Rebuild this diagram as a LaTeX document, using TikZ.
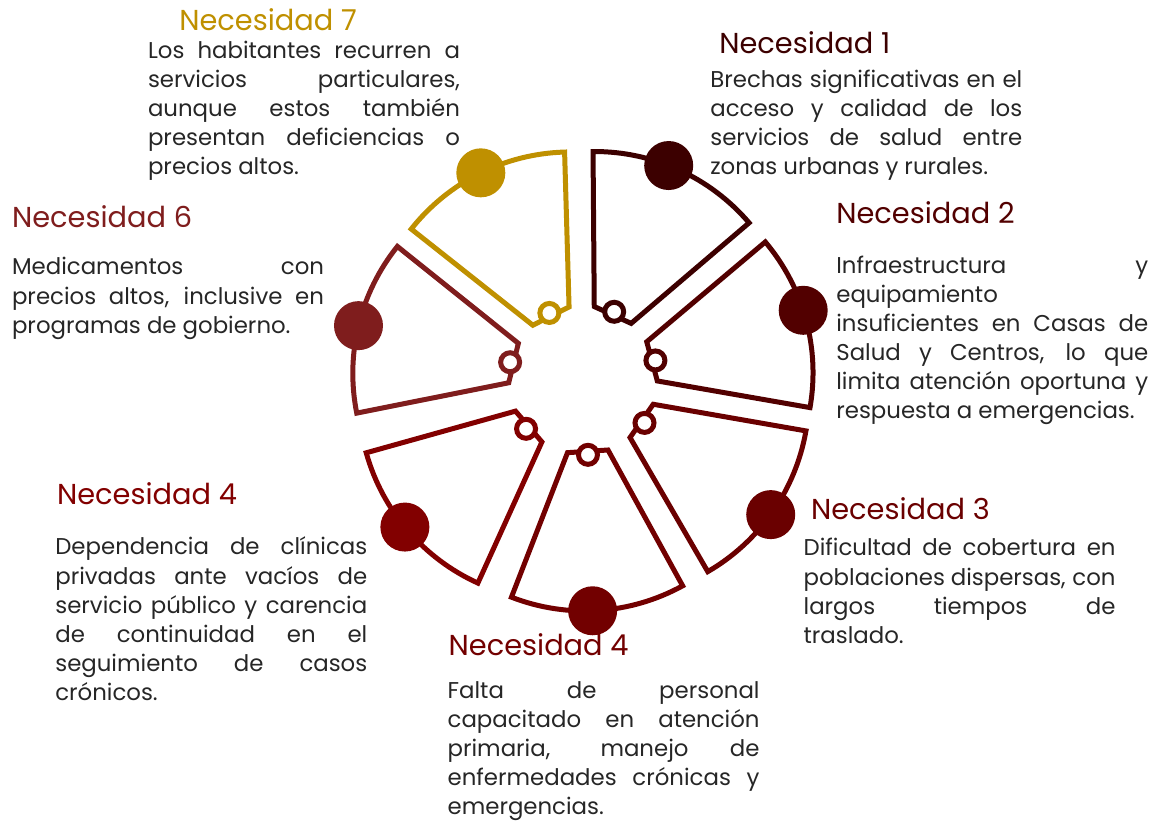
\documentclass[tikz,border=0pt]{standalone}
\usepackage{fontspec}
\setmainfont{Poppins}
\usetikzlibrary{calc}

\definecolor{necuno}{HTML}{3C0000}
\definecolor{necdos}{HTML}{520000}
\definecolor{nectres}{HTML}{6A0000}
\definecolor{neccuatro}{HTML}{720000}
\definecolor{neccinco}{HTML}{820000}
\definecolor{necseis}{HTML}{7F1D1D}
\definecolor{necsiete}{HTML}{BF9000}
\definecolor{textogris}{HTML}{262626}

\hyphenpenalty=10000
\exhyphenpenalty=10000

\tikzset{
  borde/.style={line width=0.1cm},
  titulo/.style={anchor=base west, inner sep=0pt, font=\fontsize{16.4pt}{20pt}\selectfont},
  texto/.style={anchor=base west, inner sep=0pt, text width=6.24cm, align=justify,
    text=textogris, font=\fontsize{13pt}{16.55pt}\selectfont}
}

% #1 nombre, #2 angulo medio, #3 color, #4 angulo del punto
\newcommand{\sectorpie}[4]{%
  \coordinate (#1) at ($(centro)+(#2:28)$);
  \draw[borde, #3] ($(#1)+({#2-25}:48)$) -- ($(#1)+({#2-25}:203)$)
    arc[start angle={#2-25}, end angle={#2+25}, radius=203]
    -- ($(#1)+({#2+25}:48)$) -- cycle;
  \filldraw[borde, #3, fill=white] ($(#1)+(#2:47)$) circle (9.5);
  \fill[#3] ($(#1)+(#4:203)$) circle (24.5);
}
% linea con espacios estrechos
\newcommand{\apretado}[1]{{\spaceskip=0.1em plus 1em\relax #1}}

\begin{document}
\begin{tikzpicture}[x=0.02cm, y=0.02cm]
  \useasboundingbox (0,0) rectangle (1154,822);
  \coordinate (centro) at (583,442);

  % Sectores
  \sectorpie{s1}{65.45}{necuno}{68.6}
  \sectorpie{s2}{15.1}{necdos}{17.9}
  \sectorpie{s3}{-34.9}{nectres}{-35.75}
  \sectorpie{s5}{-86.2}{neccuatro}{-87.8}
  \sectorpie{s4}{-139.4}{neccinco}{-140.6}
  \sectorpie{s6}{166.3}{necseis}{166.4}
  \sectorpie{s7}{116.65}{necsiete}{116.2}

  % Titulos
  \node[titulo, necsiete] (t7) at (179,791.3) {Necesidad 7};
  \node[titulo, necuno] (t1) at (719,768.7) {Necesidad 1};
  \node[titulo, necdos] (t2) at (836,598) {Necesidad 2};
  \node[titulo, nectres] (t3) at (810.7,302.7) {Necesidad 3};
  \node[titulo, neccuatro] (t4) at (448.3,166.3) {Necesidad 4};
  \node[titulo, neccinco] (t5) at (56.7,317) {Necesidad 4};
  \node[titulo, necseis] (t6) at (11.7,594.3) {Necesidad 6};

  % Textos
  \node[texto] (d7) at (147.7,763.7) {Los habitantes recurren a\linebreak
    servicios particulares,\linebreak aunque estos también\linebreak
    presentan deficiencias o\linebreak precios altos.};
  \node[texto] (d1) at (710,734.5) {\apretado{Brechas significativas en el}\linebreak
    acceso y calidad de los\linebreak servicios de salud entre\linebreak
    zonas urbanas y rurales.};
  \node[texto] (d2) at (836,548.7) {Infraestructura y\linebreak
    equipamiento\linebreak insuficientes en Casas de\linebreak
    Salud y Centros, lo que\linebreak limita atención oportuna y\linebreak
    respuesta a emergencias.};
  \node[texto] (d3) at (803.3,266) {Dificultad de cobertura en\linebreak
    \apretado{poblaciones dispersas, con}\linebreak largos tiempos de\linebreak
    traslado.};
  \node[texto] (d4) at (447.3,123.7) {Falta de personal\linebreak
    capacitado en atención\linebreak primaria, manejo de\linebreak
    enfermedades crónicas y\linebreak emergencias.};
  \node[texto] (d5) at (55,267) {Dependencia de clínicas\linebreak
    privadas ante vacíos de\linebreak servicio público y carencia\linebreak
    de continuidad en el\linebreak seguimiento de casos\linebreak crónicos.};
  \node[texto] (d6) at (11.7,547) {Medicamentos con\linebreak
    precios altos, inclusive en\linebreak programas de gobierno.};
\end{tikzpicture}
\end{document}
